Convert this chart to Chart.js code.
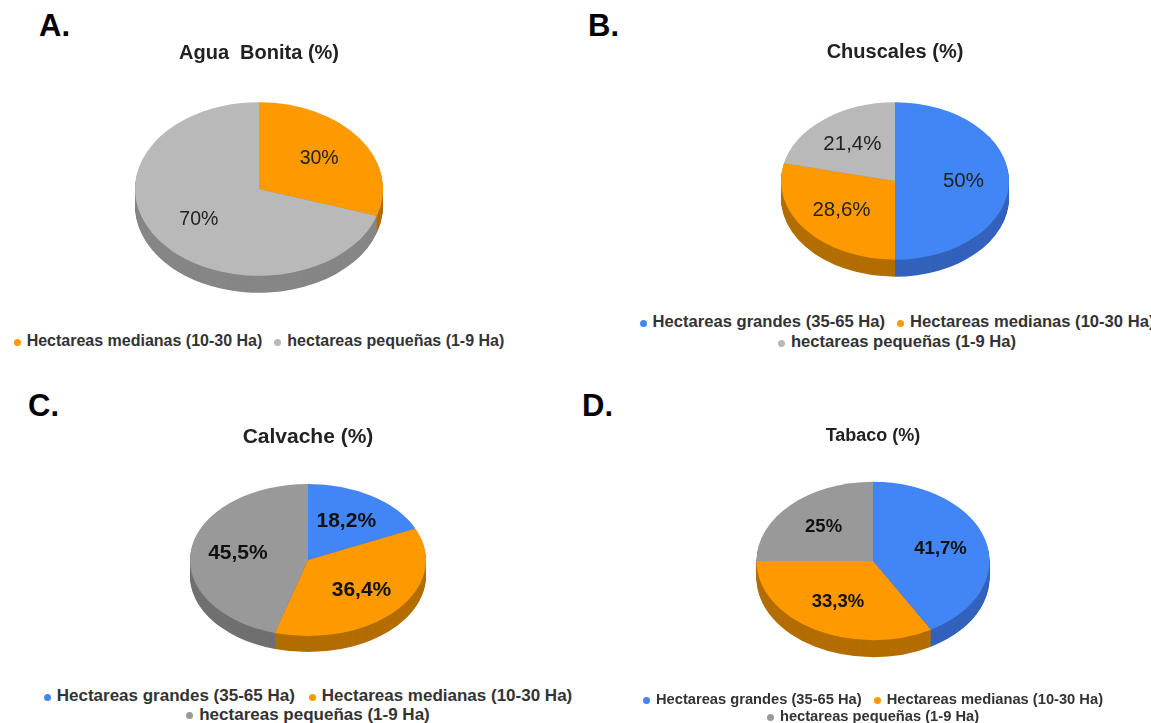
<!DOCTYPE html>
<html>
<head>
<meta charset="utf-8">
<script src="https://cdn.jsdelivr.net/npm/chart.js@4"></script>
<style>
  html, body { margin: 0; padding: 0; width: 1151px; height: 723px; overflow: hidden; background: #fff; }
  body { position: relative; font-family: "Liberation Sans", Arial, sans-serif; }
  canvas { position: absolute; }
  .tag { position: absolute; font-weight: bold; font-size: 31px; line-height: 31px; color: #000; }
  .legend { position: absolute; display: flex; flex-wrap: wrap; justify-content: center;
            column-gap: 12px; font-weight: bold; color: #333; }
  .legend .item { display: flex; align-items: center; white-space: nowrap; }
  .legend .dot { width: 7px; height: 7px; border-radius: 50%; margin-right: 6px; position: relative; top: 1px; }
</style>
</head>
<body>
<div class="tag" style="left:39px;top:10px">A.</div>
<div class="tag" style="left:588px;top:10px">B.</div>
<div class="tag" style="left:28px;top:390px">C.</div>
<div class="tag" style="left:582px;top:390px">D.</div>

<canvas id="pieA" width="600" height="300" style="left:-41px;top:0px;width:600px;height:300px"></canvas>
<canvas id="pieB" width="600" height="300" style="left:595px;top:0px;width:600px;height:300px"></canvas>
<canvas id="pieC" width="600" height="300" style="left:8px;top:380px;width:600px;height:300px"></canvas>
<canvas id="pieD" width="600" height="300" style="left:573px;top:380px;width:600px;height:300px"></canvas>

<div id="legA" class="legend" style="left:-41px;top:331px;width:600px;font-size:16px;line-height:20px"></div>
<div id="legB" class="legend" style="left:597px;top:312px;width:600px;font-size:16.6px;line-height:20px"></div>
<div id="legC" class="legend" style="left:8px;top:687px;width:600px;font-size:17px;line-height:18.5px;column-gap:14px"></div>
<div id="legD" class="legend" style="left:573px;top:691px;width:600px;font-size:14.7px;line-height:17px"></div>

<script>
// Farm size classes
const sizeGrandes  = 'Hectareas grandes (35-65 Ha)';
const sizeMedianas = 'Hectareas medianas (10-30 Ha)';
const sizePequenas = 'hectareas pequeñas (1-9 Ha)';

// Chart titles
const titleA = 'Agua  Bonita (%)';
const titleB = 'Chuscales (%)';
const titleC = 'Calvache (%)';
const titleD = 'Tabaco (%)';

// Categories and shares (%) per locality
const aguaBonitaCats = [sizeMedianas, sizePequenas];
const aguaBonitaVals = [30, 70];

const chuscalesCats = [sizeGrandes, sizeMedianas, sizePequenas];
const chuscalesVals = [50, 28.6, 21.4];

const calvacheCats = [sizeGrandes, sizeMedianas, sizePequenas];
const calvacheVals = [18.2, 36.4, 45.5];

const tabacoCats = [sizeGrandes, sizeMedianas, sizePequenas];
const tabacoVals = [41.7, 33.3, 25];

// Palette: top faces and darker side walls
const BLUE = '#4285F4', BLUE_SIDE = '#3262BC';
const ORANGE = '#FF9900', ORANGE_SIDE = '#B36D00';
const LIGHT_GRAY = '#B9B9B9', LIGHT_GRAY_SIDE = '#868686';
const GRAY = '#999999', GRAY_SIDE = '#707070';

const FONT = '"Liberation Sans", Arial, sans-serif';

const pct = v => String(v).replace('.', ',') + '%';

// Tilts the pie into an ellipse, extrudes a side wall and writes slice values
const pie3d = {
  id: 'pie3d',
  beforeDatasetsDraw(chart, args, o) {
    const ctx = chart.ctx;
    const meta = chart.getDatasetMeta(0);
    const tilt = (d, arc) => {
      ctx.translate(arc.x, o.centerY + d);
      ctx.scale(1, o.tilt);
      ctx.translate(-arc.x, -arc.y);
    };
    for (let d = o.depth; d >= 1; d--) {
      meta.data.forEach((arc, i) => {
        ctx.save();
        tilt(d, arc);
        const saved = arc.options;
        arc.options = Object.assign({}, saved, { backgroundColor: o.sideColors[i], borderWidth: 0 });
        arc.draw(ctx);
        arc.options = saved;
        ctx.restore();
      });
    }
    ctx.save();
    tilt(0, meta.data[0]);
  },
  afterDatasetsDraw(chart, args, o) {
    const ctx = chart.ctx;
    ctx.restore();
    const meta = chart.getDatasetMeta(0);
    const values = chart.data.datasets[0].data;
    ctx.save();
    ctx.font = o.labelFont;
    ctx.fillStyle = o.labelColor;
    ctx.textAlign = 'center';
    ctx.textBaseline = 'middle';
    meta.data.forEach((arc, i) => {
      const mid = (arc.startAngle + arc.endAngle) / 2;
      const r = arc.outerRadius * o.labelRadius;
      const x = arc.x + Math.cos(mid) * r;
      const y = o.centerY + Math.sin(mid) * r * o.tilt;
      ctx.fillText(pct(values[i]), x, y);
    });
    ctx.restore();
  }
};

// Legend rendered as HTML from the chart's own legend items
const htmlLegend = {
  id: 'htmlLegend',
  afterUpdate(chart, args, o) {
    const box = document.getElementById(o.containerID);
    box.innerHTML = '';
    chart.options.plugins.legend.labels.generateLabels(chart).forEach(item => {
      const el = document.createElement('span');
      el.className = 'item';
      const dot = document.createElement('span');
      dot.className = 'dot';
      dot.style.background = item.fillStyle;
      const txt = document.createElement('span');
      txt.textContent = item.text;
      el.appendChild(dot);
      el.appendChild(txt);
      box.appendChild(el);
    });
  }
};

function makePie(canvasId, legendId, title, titleSize, titlePad, cats, vals, colors, sides, geo, labelFont, labelColor) {
  return new Chart(document.getElementById(canvasId), {
    type: 'pie',
    data: {
      labels: cats,
      datasets: [{
        data: vals,
        backgroundColor: colors,
        borderWidth: 0,
        radius: geo.radius,
        clip: false
      }]
    },
    options: {
      responsive: false,
      devicePixelRatio: 1,
      animation: false,
      events: [],
      layout: { padding: 0 },
      plugins: {
        legend: { display: false },
        tooltip: { enabled: false },
        title: {
          display: true,
          text: title,
          color: '#222',
          font: { family: FONT, size: titleSize, weight: 'bold' },
          padding: { top: titlePad, bottom: 0 }
        },
        htmlLegend: { containerID: legendId },
        pie3d: {
          centerY: geo.centerY,
          tilt: geo.tilt,
          depth: geo.depth,
          sideColors: sides,
          labelRadius: 0.6,
          labelFont: labelFont,
          labelColor: labelColor
        }
      }
    },
    plugins: [pie3d, htmlLegend]
  });
}

makePie('pieA', 'legA', titleA, 20, 41, aguaBonitaCats, aguaBonitaVals,
  [ORANGE, LIGHT_GRAY], [ORANGE_SIDE, LIGHT_GRAY_SIDE],
  { radius: 124, centerY: 189, tilt: 0.70, depth: 17 },
  '19.5px ' + FONT, '#222');

makePie('pieB', 'legB', titleB, 20, 40.5, chuscalesCats, chuscalesVals,
  [BLUE, ORANGE, LIGHT_GRAY], [BLUE_SIDE, ORANGE_SIDE, LIGHT_GRAY_SIDE],
  { radius: 114, centerY: 181, tilt: 0.69, depth: 17 },
  '20.5px ' + FONT, '#222');

makePie('pieC', 'legC', titleC, 21, 45, calvacheCats, calvacheVals,
  [BLUE, ORANGE, GRAY], [BLUE_SIDE, ORANGE_SIDE, GRAY_SIDE],
  { radius: 118, centerY: 180, tilt: 0.645, depth: 16 },
  'bold 21px ' + FONT, '#111');

makePie('pieD', 'legD', titleD, 18, 45, tabacoCats, tabacoVals,
  [BLUE, ORANGE, GRAY], [BLUE_SIDE, ORANGE_SIDE, GRAY_SIDE],
  { radius: 116.5, centerY: 181, tilt: 0.68, depth: 17 },
  'bold 18.5px ' + FONT, '#111');
</script>
</body>
</html>
